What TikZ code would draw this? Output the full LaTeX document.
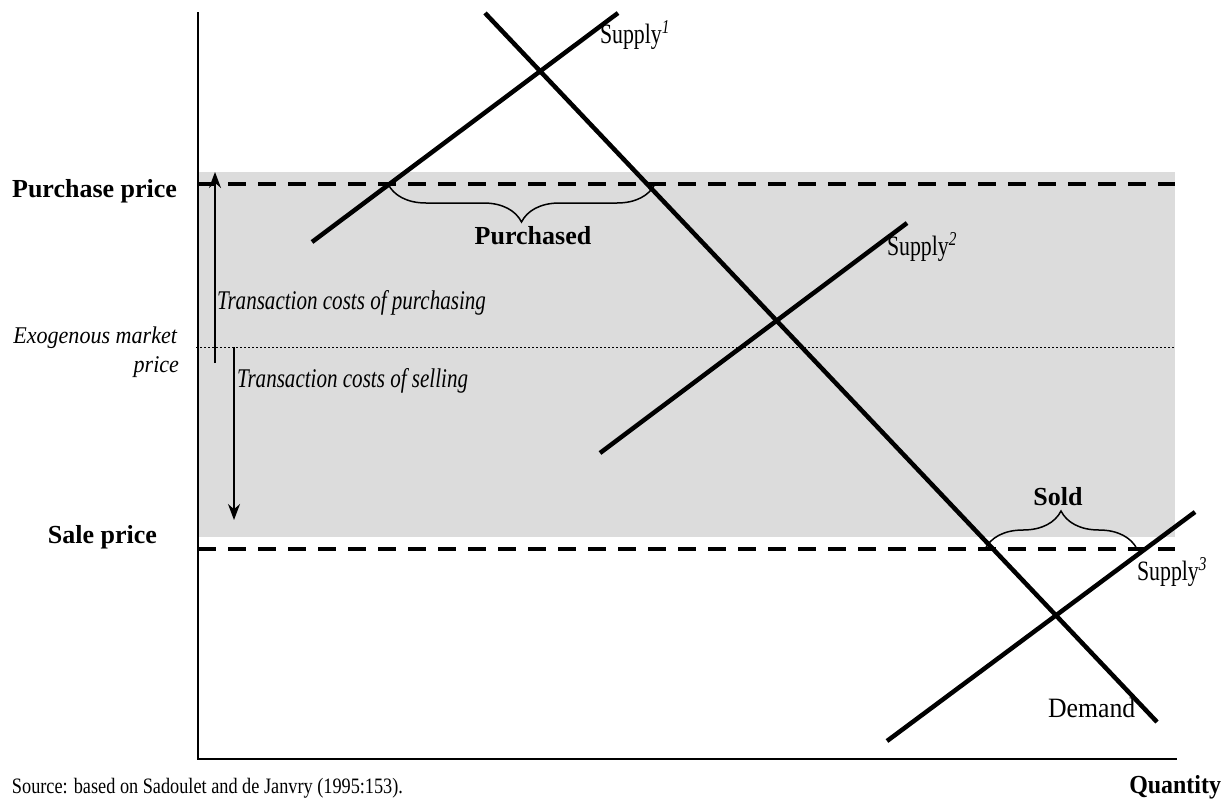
\documentclass[tikz,border=0pt]{standalone}
\usepackage{fontspec}
\setmainfont{Liberation Serif}
\newfontfamily\condA{Liberation Serif}[FakeStretch=0.78]
\newfontfamily\condB{Liberation Serif}[FakeStretch=0.92]
\newfontfamily\condC{Liberation Serif}[FakeStretch=0.83]
\usetikzlibrary{arrows.meta,decorations.pathreplacing}
\definecolor{bandgray}{RGB}{220,220,220}
\tikzset{
  lbl/.style={inner sep=0pt,outer sep=0pt},
  boldlbl/.style={lbl,font=\fontsize{26}{30}\selectfont\bfseries},
  itlbl/.style={lbl,font=\condA\fontsize{27}{30}\selectfont\itshape},
  exolbl/.style={lbl,font=\condB\fontsize{24}{28}\selectfont\itshape},
  suplbl/.style={lbl,font=\condA\fontsize{28}{30}\selectfont},
  curve/.style={line width=4.5pt},
  axis/.style={line width=2pt},
  pricedash/.style={line width=4pt,dash pattern=on 18pt off 12pt},
  markdot/.style={line width=1pt,dash pattern=on 2pt off 2pt},
  costarrow/.style={line width=1.6pt,-{Stealth[length=16pt,width=12pt]}},
  bracedeco/.style={line width=1.5pt,decorate,decoration={brace,amplitude=38pt}},
}
\begin{document}
\begin{tikzpicture}[x=1pt,y=-1pt]
\useasboundingbox (0,0) rectangle (1225,803);
% shaded band
\fill[bandgray] (198,172) rectangle (1175,537);
% axes
\coordinate (origin) at (198,759);
\coordinate (ytop) at (198,12);
\coordinate (xend) at (1177,759);
\draw[axis] (ytop) -- (origin) -- (xend);
% price lines
\coordinate (pp0) at (198,184);
\coordinate (pp1) at (1175,184);
\coordinate (sp0) at (198,549);
\coordinate (sp1) at (1175,549);
\coordinate (mp0) at (196,347);
\coordinate (mp1) at (1175,347);
\draw[pricedash] (pp0) -- (pp1);
\draw[pricedash] (sp0) -- (sp1);
\draw[markdot] (mp0) -- (mp1);
% cost arrows
\coordinate (ua0) at (215,363);
\coordinate (ua1) at (215,172);
\coordinate (da0) at (234,347);
\coordinate (da1) at (234,520);
\draw[costarrow] (ua0) -- (ua1);
\draw[costarrow] (da0) -- (da1);
% curves
\coordinate (s1a) at (312,242);
\coordinate (s1b) at (618,13);
\coordinate (s2a) at (600,453);
\coordinate (s2b) at (907,223);
\coordinate (s3a) at (887,741);
\coordinate (s3b) at (1195,512);
\coordinate (da) at (485,13);
\coordinate (db) at (1157,722);
\draw[curve] (s1a) -- (s1b);
\draw[curve] (s2a) -- (s2b);
\draw[curve] (s3a) -- (s3b);
\draw[curve] (da) -- (db);
% braces
\coordinate (pb0) at (388,184);
\coordinate (pb1) at (655,184);
\coordinate (sb0) at (985,549);
\coordinate (sb1) at (1137,549);
\draw[bracedeco,decoration={mirror}] (pb0) -- (pb1);
\draw[bracedeco] (sb0) -- (sb1);
% labels
\node[boldlbl,anchor=base] (purch) at (533,244) {Purchased};
\node[boldlbl,anchor=base] (sold) at (1058,505) {Sold};
\node[boldlbl,anchor=base east] (ppl) at (177,197) {Purchase price};
\node[boldlbl,anchor=base east] (spl) at (157,543) {Sale price};
\node[exolbl,anchor=base east] (exo1) at (177,343) {Exogenous market};
\node[exolbl,anchor=base east] (exo2) at (179,372) {price};
\node[itlbl,anchor=base west] (tcp) at (217,309) {Transaction costs of purchasing};
\node[itlbl,anchor=base west] (tcs) at (237,387) {Transaction costs of selling};
\node[suplbl,anchor=base west] (sup1) at (600,43) {Supply\textsuperscript{\itshape 1}};
\node[suplbl,anchor=base west] (sup2) at (887,255) {Supply\textsuperscript{\itshape 2}};
\node[suplbl,anchor=base west] (sup3) at (1137,580) {Supply\textsuperscript{\itshape 3}};
\node[lbl,font=\condB\fontsize{28}{30}\selectfont,anchor=base west] (dem) at (1048,717) {Demand};
\node[lbl,font=\condC\fontsize{22}{24}\selectfont,anchor=base west] (src) at (12,793) {Source: based on Sadoulet and de Janvry (1995:153).};
\node[lbl,font=\condB\fontsize{26}{30}\selectfont\bfseries,anchor=base east] (qty) at (1221,793) {Quantity};
\end{tikzpicture}
\end{document}
